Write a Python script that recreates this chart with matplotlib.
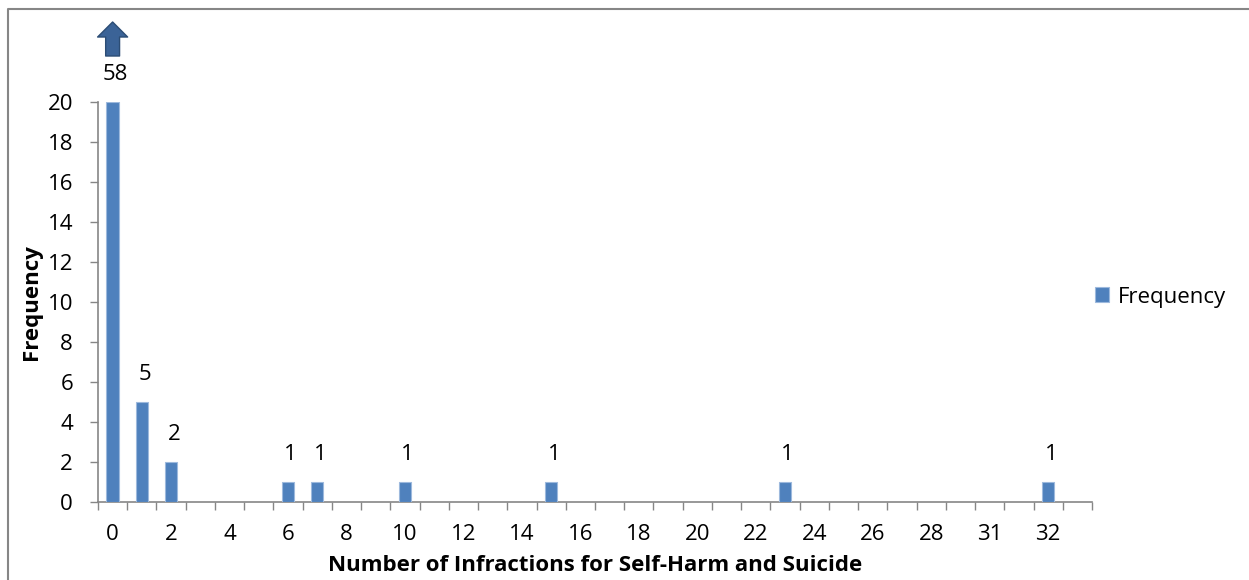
import matplotlib.pyplot as plt
from matplotlib.lines import Line2D
import numpy as np

# infraction counts (x categories) and how many people had each count
categories = [str(i) for i in range(30)] + ['31', '31', '32', '33']
bar_cats = ['0', '1', '2', '6', '7', '10', '15', '23', '32']
freq = [58, 5, 2, 1, 1, 1, 1, 1, 1]
y_max = 20  # the first bar is cut off at the top of the axis

plt.rcParams['font.family'] = ['Open Sans', 'DejaVu Sans']
FS = 16

fig = plt.figure(figsize=(12.49, 5.8), dpi=100)
ax = fig.add_axes([98 / 1249, 1 - 502 / 580, 994 / 1249, 400 / 580])

idx = {c: i for i, c in enumerate(categories[:33]) if c not in ('31',) or i == 30}
pos = [idx[c] for c in bar_cats]
shown = [min(v, y_max) for v in freq]
ax.bar(pos, shown, width=0.42, color='#4F81BD', edgecolor='#9DB9DD',
       linewidth=0.8, label='Frequency', zorder=3)

for p, v in zip(pos, freq):
    ax.annotate(str(v), xy=(p, min(v, y_max)), xytext=(2, 12),
                textcoords='offset points', ha='center', va='bottom',
                fontsize=FS)

# block arrow over the clipped bar
ax.annotate('', xy=(pos[0], 1.2), xytext=(pos[0], 1.115),
            xycoords=('data', 'axes fraction'),
            textcoords=('data', 'axes fraction'),
            arrowprops=dict(arrowstyle='simple,head_length=10.8,head_width=21.6,tail_width=10',
                            mutation_scale=1, shrinkA=0, shrinkB=0,
                            fc='#3B6397', ec='#2C4D75', lw=1),
            annotation_clip=False)

ax.set_xlim(-0.5, len(categories) - 0.5)
ax.set_ylim(0, y_max)
ax.set_yticks(np.arange(0, y_max + 1, 2))

# tick marks at category boundaries, labels on every other category
ax.set_xticks(np.arange(-0.5, len(categories), 1))
ax.set_xticklabels([])
ax.set_xticks(np.arange(0, len(categories), 2), minor=True)
ax.set_xticklabels(categories[::2], minor=True, fontsize=FS)
ax.tick_params(axis='x', which='major', length=6, width=1, color='#868686')
ax.tick_params(axis='x', which='minor', length=0, pad=16)
ax.tick_params(axis='y', length=6, width=1, color='#868686', pad=12, labelsize=FS)

for s in ('top', 'right'):
    ax.spines[s].set_visible(False)
for s in ('left', 'bottom'):
    ax.spines[s].set_color('#868686')
    ax.spines[s].set_linewidth(1.2)

ax.set_xlabel('Number of Infractions for Self-Harm and Suicide', fontsize=FS,
              fontweight='bold', labelpad=7)
ax.set_ylabel('Frequency', fontsize=FS, fontweight='bold', labelpad=4)

fig.legend(loc='center left', bbox_to_anchor=(1075 / 1249, 1 - 297 / 580),
           frameon=False, fontsize=FS, handlelength=0.65, handleheight=0.65,
           handletextpad=0.4)

# chart area border
fig.add_artist(Line2D([8 / 1249, 8 / 1249, 1.0], [0.0, 1 - 9 / 580, 1 - 9 / 580],
                      color='#868686', lw=1.5, transform=fig.transFigure))

fig.savefig('out.png', dpi=100)
